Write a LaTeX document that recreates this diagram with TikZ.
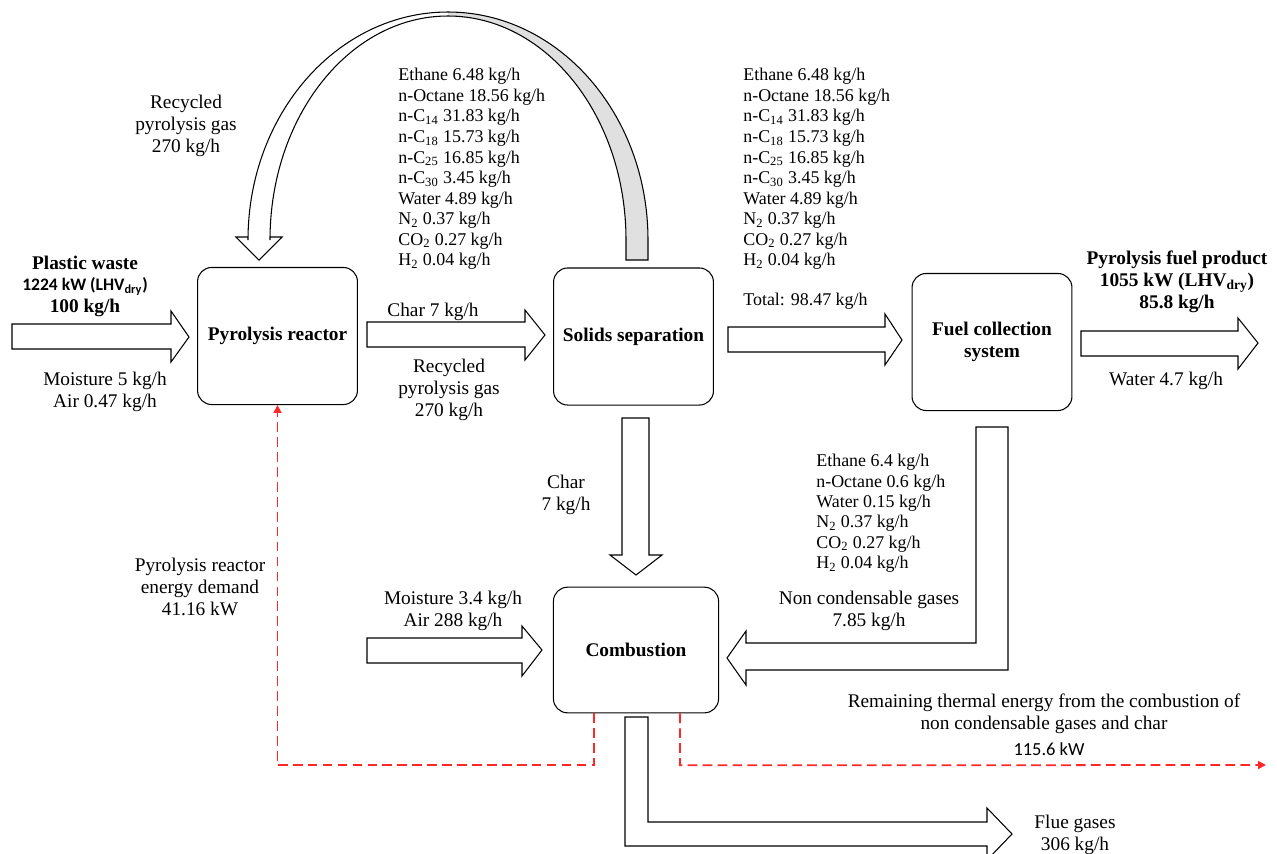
\documentclass[tikz,border=0pt]{standalone}
\usepackage{fontspec}
\setmainfont{Liberation Serif}
\newfontfamily\calibri{Carlito}
\usepackage{tikz}
\usetikzlibrary{arrows.meta,calc}
\definecolor{heatred}{RGB}{255,40,40}
\definecolor{recyclegrey}{RGB}{224,224,224}

\tikzset{
  procbox/.style={draw, line width=0.6pt, rounded corners=8pt, align=center,
    font=\fontsize{11}{12.5}\selectfont\bfseries, minimum width=91pt, minimum height=78pt},
  flowarrow/.style={draw, line width=0.6pt, fill=white},
  lbl/.style={align=center, inner sep=0pt, font=\fontsize{11}{12.5}\selectfont},
  complist/.style={align=left, inner sep=0pt, anchor=north west, font=\fontsize{10.2}{11.7}\selectfont},
  heatline/.style={draw=heatred, line width=1pt, dash pattern=on 5.5pt off 3pt,
    -{Triangle[length=4.5pt,width=4.5pt]}},
}

\begin{document}
\begin{tikzpicture}[x=0.02cm,y=-0.02cm]
\useasboundingbox (0,0) rectangle (1277,853);

% process units
\node[procbox] (reactor) at (277.5,336) {Pyrolysis reactor};
\node[procbox] (separator) at (633.5,336.5) {Solids separation};
\node[procbox] (collector) at (992,342) {Fuel collection\\system};
\node[procbox, minimum width=94pt, minimum height=71.5pt] (burner) at (636,650) {Combustion};

% recycled gas loop
\fill[recyclegrey] (448,12) arc[start angle=270, end angle=360, x radius=200, y radius=228]
  -- (648,260) -- (626,260) -- (626,240)
  arc[start angle=360, end angle=270, x radius=178, y radius=224] -- cycle;
\draw[line width=0.6pt] (259,260) -- (282,237) -- (270,237) -- (270,240)
  arc[start angle=180, end angle=360, x radius=178, y radius=224]
  -- (626,260) -- (648,260) -- (648,240)
  arc[start angle=360, end angle=180, x radius=200, y radius=228]
  -- (248,237) -- (236,237) -- cycle;

% block arrows
\draw[flowarrow] (12,324) -- (171,324) -- (171,311) -- (189,337) -- (171,362) -- (171,349) -- (12,349) -- cycle;
\draw[flowarrow] (367,322) -- (525,322) -- (525,310) -- (545,335) -- (525,360) -- (525,347) -- (367,347) -- cycle;
\draw[flowarrow] (728,327) -- (885,327) -- (885,314) -- (902,340) -- (885,365) -- (885,352) -- (728,352) -- cycle;
\draw[flowarrow] (1081,331) -- (1238,331) -- (1238,318) -- (1258,343) -- (1238,369) -- (1238,356) -- (1081,356) -- cycle;
\draw[flowarrow] (367,638) -- (522,638) -- (522,626) -- (542,650) -- (522,676) -- (522,663) -- (367,663) -- cycle;
\draw[flowarrow] (622,418) -- (649,418) -- (649,555) -- (662,555) -- (636,575) -- (610,555) -- (622,555) -- cycle;
\draw[flowarrow] (976,427) -- (1008,427) -- (1008,670) -- (746,670) -- (746,685) -- (727,658)
  -- (746,631) -- (746,643) -- (976,643) -- cycle;
\draw[flowarrow] (625,717) -- (648,717) -- (648,822) -- (987,822) -- (987,808) -- (1012,834)
  -- (987,860) -- (987,846) -- (625,846) -- cycle;

% heat flows
\draw[heatline] (burner.south) ++(-42,0) -- ++(0,52) -| (reactor.south);
\coordinate (heatout) at (1266,765);
\draw[heatline] (burner.south) ++(44,0) -- ++(0,52) -- (heatout);

% stream labels
\node[lbl, font=\fontsize{11}{12.2}\selectfont\bfseries] (wastelbl) at (85,286)
  {Plastic waste\\{\calibri\fontsize{10}{12}\selectfont 1224 kW (LHV\textsubscript{dry})}\\100 kg/h};
\node[lbl] (wastemoist) at (105,392) {Moisture 5 kg/h\\Air 0.47 kg/h};
\node[lbl] (recyclelbl) at (186,126) {Recycled\\pyrolysis gas\\270 kg/h};
\node[complist] (vapourlist) at (398,68) {Ethane 6.48 kg/h\\n-Octane 18.56 kg/h\\n-C\textsubscript{14} 31.83 kg/h\\n-C\textsubscript{18} 15.73 kg/h\\n-C\textsubscript{25} 16.85 kg/h\\n-C\textsubscript{30} 3.45 kg/h\\Water 4.89 kg/h\\N\textsubscript{2} 0.37 kg/h\\CO\textsubscript{2} 0.27 kg/h\\H\textsubscript{2} 0.04 kg/h};
\node[lbl] (charlbl) at (433,312) {Char 7 kg/h};
\node[lbl] (gaslbl) at (449,390) {Recycled\\pyrolysis gas\\270 kg/h};
\node[complist] (cleanlist) at (743,68) {Ethane 6.48 kg/h\\n-Octane 18.56 kg/h\\n-C\textsubscript{14} 31.83 kg/h\\n-C\textsubscript{18} 15.73 kg/h\\n-C\textsubscript{25} 16.85 kg/h\\n-C\textsubscript{30} 3.45 kg/h\\Water 4.89 kg/h\\N\textsubscript{2} 0.37 kg/h\\CO\textsubscript{2} 0.27 kg/h\\H\textsubscript{2} 0.04 kg/h\\[11pt]Total: 98.47 kg/h};
\node[lbl, font=\fontsize{11}{12.5}\selectfont\bfseries] (fuellbl) at (1177,282)
  {Pyrolysis fuel product\\1055 kW (LHV\textsubscript{dry})\\85.8 kg/h};
\node[lbl] (waterlbl) at (1166,381) {Water 4.7 kg/h};
\node[lbl] (charlbl2) at (566,495) {Char\\7 kg/h};
\node[complist, font=\fontsize{10.2}{11.6}\selectfont] (ncglist) at (816,454) {Ethane 6.4 kg/h\\n-Octane 0.6 kg/h\\Water 0.15 kg/h\\N\textsubscript{2} 0.37 kg/h\\CO\textsubscript{2} 0.27 kg/h\\H\textsubscript{2} 0.04 kg/h};
\node[lbl] (ncglbl) at (869,611) {Non condensable gases\\7.85 kg/h};
\node[lbl] (demandlbl) at (200,587) {Pyrolysis reactor\\energy demand\\41.16 kW};
\node[lbl] (airlbl) at (453,611) {Moisture 3.4 kg/h\\Air 288 kg/h};
\node[lbl] (remainlbl) at (1044,714) {Remaining thermal energy from the combustion of\\non condensable gases and char};
\node[lbl, font=\calibri\fontsize{10.5}{12}\selectfont] (remainkw) at (1049,749) {115.6 kW};
\node[lbl] (fluelbl) at (1075,835) {Flue gases\\306 kg/h};

\end{tikzpicture}
\end{document}
